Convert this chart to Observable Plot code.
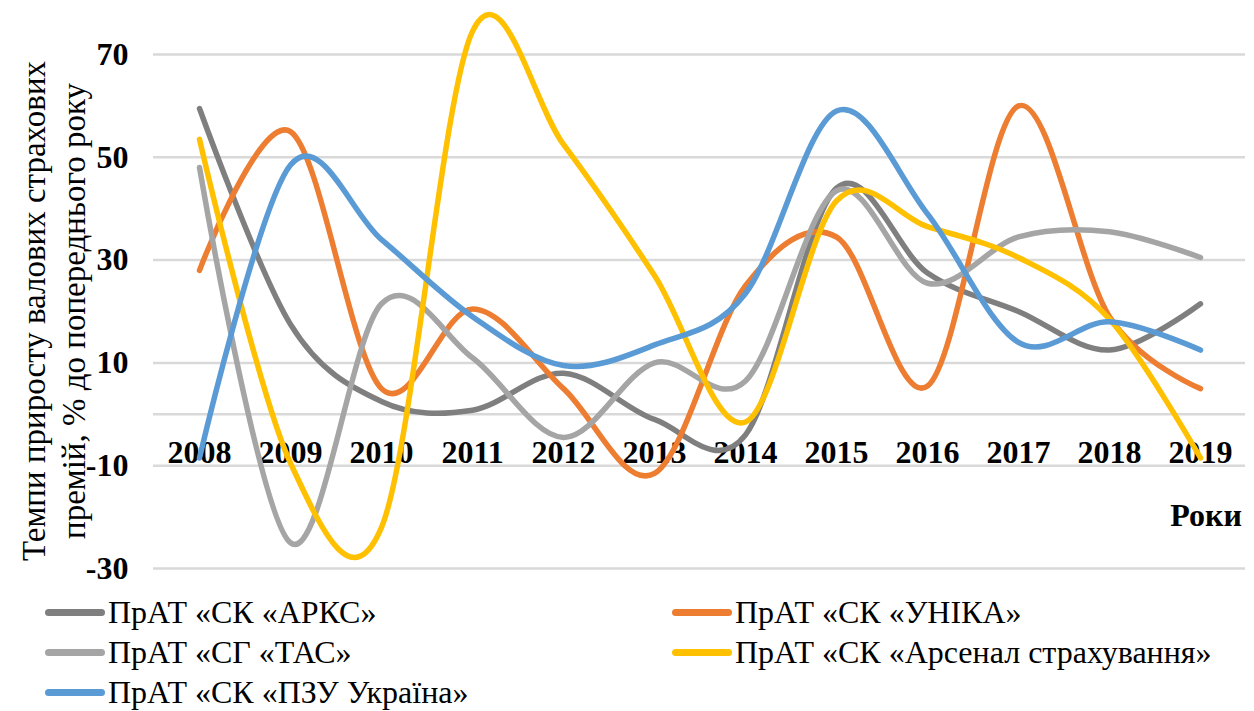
<!DOCTYPE html>
<html>
<head>
<meta charset="utf-8">
<script src="https://cdn.jsdelivr.net/npm/d3@7"></script>
<script src="https://cdn.jsdelivr.net/npm/@observablehq/plot@0.6"></script>
<style>
  html, body { margin: 0; padding: 0; background: #fff; }
  #wrap { position: relative; width: 1254px; height: 711px; overflow: hidden; font-family: "Liberation Serif", "Times New Roman", serif; }
  #chart { position: absolute; left: 0; top: 0; }
  .leg { position: absolute; display: flex; align-items: center; font-size: 32px; color: #000; white-space: nowrap; font-family: "Liberation Serif", "Times New Roman", serif; }
  .sw { width: 60px; height: 7px; border-radius: 4px; margin-right: 3px; }
</style>
</head>
<body>
<div id="wrap">
  <div id="chart"></div>
  <div id="legend"></div>
</div>
<script>
const years = [2008, 2009, 2010, 2011, 2012, 2013, 2014, 2015, 2016, 2017, 2018, 2019];
const seriesNames = ["ПрАТ «СК «АРКС»", "ПрАТ «СК «УНІКА»", "ПрАТ «СГ «ТАС»", "ПрАТ «СК «Арсенал страхування»", "ПрАТ «СК «ПЗУ Україна»"];
const seriesColors = ["#7f7f7f", "#ed7d31", "#a5a5a5", "#ffc000", "#5b9bd5"];
const arks    = [59.5, 17.5, 2.5, 0.8, 8, -1, -4, 44, 27.5, 20, 12.5, 21.5];
const unika   = [28, 55, 5, 20.5, 5, -11.5, 25, 34.5, 5.5, 60, 19, 5];
const tas     = [48, -25, 21.5, 11, -4.5, 10, 6.5, 43.5, 25.5, 34.5, 35.5, 30.5];
const arsenal = [53.5, -9.5, -22, 74.5, 52.5, 27, -1.5, 41.5, 36.5, 30.5, 18.5, -8.5];
const pzu     = [-8.5, 48.5, 34, 19, 9.5, 13.5, 23.5, 59, 39, 14, 18, 12.5];
const yTicks = [-30, -10, 10, 30, 50, 70];
const yTitle = "Темпи приросту валових страхових\nпремій, % до попереднього року";
const xTitle = "Роки";

const seriesValues = [arks, unika, tas, arsenal, pzu];
const data = seriesNames.flatMap((name, i) => years.map((year, j) => ({name, year, value: seriesValues[i][j]})));

const plot = Plot.plot({
  width: 1254,
  height: 590,
  marginLeft: 153,
  marginRight: 9,
  marginTop: 54,
  marginBottom: 22,
  style: {fontFamily: "'Liberation Serif', 'Times New Roman', serif", fontSize: "32px", background: "#fff", color: "#000"},
  x: {type: "point", domain: years, padding: 0.5, axis: null},
  y: {domain: [-30, 70], ticks: yTicks, tickSize: 0, tickPadding: 25, label: null, tickFormat: d => String(d)},
  color: {domain: seriesNames, range: seriesColors},
  marks: [
    Plot.ruleY(yTicks.concat([0]), {stroke: "#d9d9d9", strokeWidth: 2.5}),
    Plot.text(years, {x: d => d, y: () => 0, dy: 38, text: d => String(d), fontSize: 32, fontWeight: "bold", fill: "#000"}),
    Plot.line(data, {x: "year", y: "value", z: "name", stroke: "name", strokeWidth: 5.5, curve: "cardinal", strokeLinecap: "round", strokeLinejoin: "round"})
  ]
});
document.getElementById("chart").appendChild(plot);

const svg = d3.select(plot.tagName.toLowerCase() === "svg" ? plot : plot.querySelector("svg"));
svg.selectAll("[aria-label='y-axis'] text, [aria-label='y-axis tick label'] text").attr("font-weight", "bold");

// y-axis title (two lines, rotated)
const lines = yTitle.split("\n");
const yt = svg.append("text")
  .attr("transform", "translate(33,311) rotate(-90)")
  .attr("text-anchor", "middle")
  .attr("font-size", 33)
  .attr("fill", "#000");
lines.forEach((l, i) => yt.append("tspan").attr("x", 0).attr("dy", i === 0 ? "0.35em" : "40px").text(l));

svg.append("text")
  .attr("x", 1206).attr("y", 526)
  .attr("text-anchor", "middle")
  .attr("font-size", 32)
  .attr("font-weight", "bold")
  .attr("fill", "#000")
  .text(xTitle);

// legend
const legPos = [[45, 612], [672, 612], [45, 652], [672, 652], [45, 692]];
const leg = document.getElementById("legend");
seriesNames.forEach((name, i) => {
  const d = document.createElement("div");
  d.className = "leg";
  d.style.left = legPos[i][0] + "px";
  d.style.top = (legPos[i][1] - 20) + "px";
  d.style.height = "40px";
  const sw = document.createElement("div");
  sw.className = "sw";
  sw.style.background = seriesColors[i];
  const t = document.createElement("span");
  t.textContent = name;
  d.appendChild(sw);
  d.appendChild(t);
  leg.appendChild(d);
});
</script>
</body>
</html>
